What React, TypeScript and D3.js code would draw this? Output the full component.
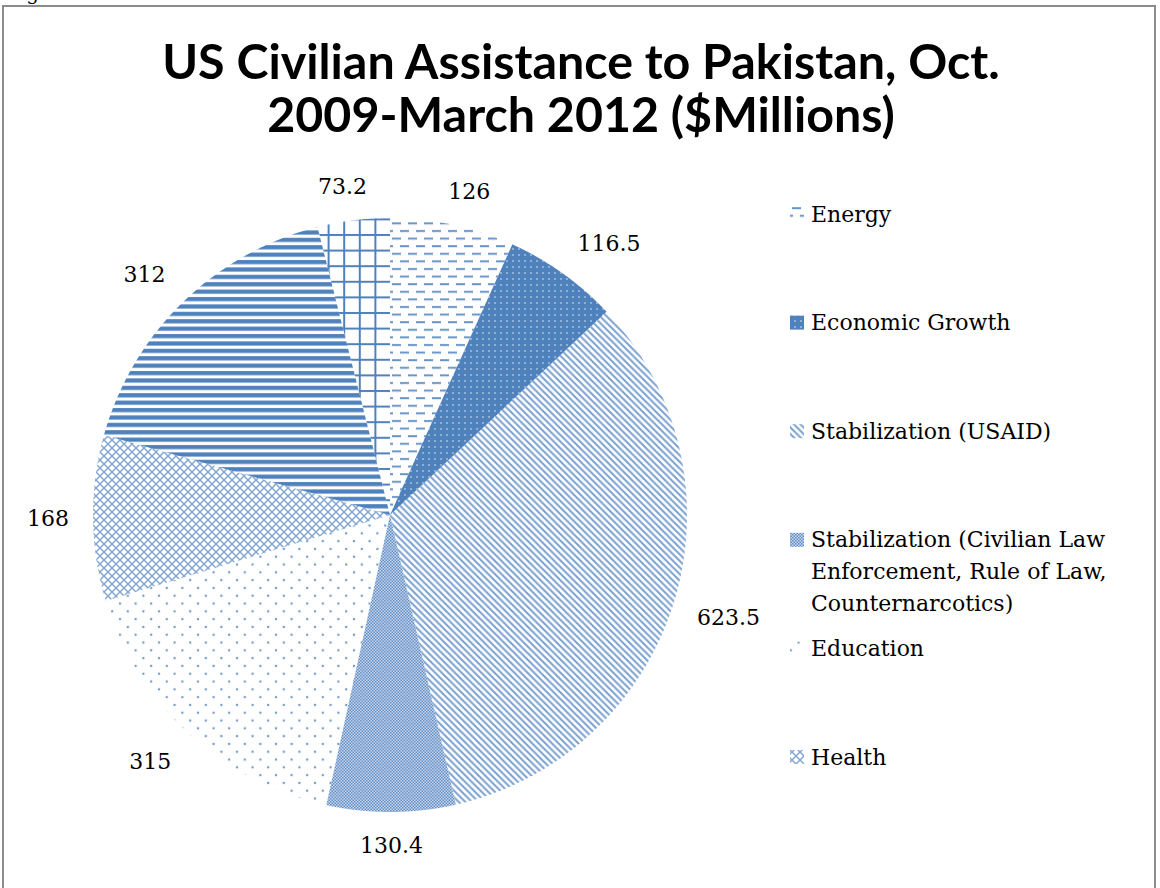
import React, { useEffect, useRef } from "react";
import * as d3 from "d3";

const titleLines = ["US Civilian Assistance to Pakistan, Oct.", "2009-March 2012 ($Millions)"];
const categories = [
  "Energy",
  "Economic Growth",
  "Stabilization (USAID)",
  "Stabilization (Civilian Law Enforcement, Rule of Law, Counternarcotics)",
  "Education",
  "Health",
  "Humanitarian",
  "Other",
];
const values = [126, 116.5, 623.5, 130.4, 315, 168, 312, 73.2];
const valueLabels = ["126", "116.5", "623.5", "130.4", "315", "168", "312", "73.2"];
const legendCount = 6;
const patternIds = ["pEnergy", "pEcon", "pUsaid", "pCiv", "pEdu", "pHealth", "pHum", "pOther"];

const BLUE = "#4F81BD";
const SERIF = "'DejaVu Serif', serif";
const SANS = "Lato, 'Open Sans', sans-serif";

export default function App() {
  const ref = useRef<SVGSVGElement | null>(null);

  useEffect(() => {
    const svg = d3.select(ref.current);
    svg.selectAll("*").remove();
    const W = 1160, H = 888;

    const defs = svg.append("defs");
    // Energy: dashed horizontal
    const pe = defs.append("pattern").attr("id", "pEnergy").attr("patternUnits", "userSpaceOnUse").attr("width", 16).attr("height", 15.2);
    pe.append("rect").attr("x", 0).attr("y", 2).attr("width", 9).attr("height", 2).attr("fill", BLUE).attr("opacity", 0.85);
    pe.append("rect").attr("x", 8).attr("y", 9.6).attr("width", 9).attr("height", 2).attr("fill", BLUE).attr("opacity", 0.85);
    pe.append("rect").attr("x", -8).attr("y", 9.6).attr("width", 9).attr("height", 2).attr("fill", BLUE).attr("opacity", 0.85);
    // Economic growth: solid with white dots
    const pg = defs.append("pattern").attr("id", "pEcon").attr("patternUnits", "userSpaceOnUse").attr("width", 6).attr("height", 6);
    pg.append("rect").attr("width", 6).attr("height", 6).attr("fill", BLUE);
    pg.append("rect").attr("x", 2.3).attr("y", 2.3).attr("width", 1.4).attr("height", 1.4).attr("fill", "#ffffff").attr("opacity", 0.75);
    // Stabilization USAID: diagonal lines
    const pu = defs.append("pattern").attr("id", "pUsaid").attr("patternUnits", "userSpaceOnUse").attr("width", 6.6).attr("height", 6.6);
    pu.append("path").attr("d", "M-1,-1L7.6,7.6M-1,5.6L1,7.6M5.6,-1L7.6,1").attr("stroke", BLUE).attr("stroke-width", 2).attr("opacity", 0.75);
    // Civilian: checkerboard
    const pc = defs.append("pattern").attr("id", "pCiv").attr("patternUnits", "userSpaceOnUse").attr("width", 3).attr("height", 3);
    pc.append("rect").attr("width", 3).attr("height", 3).attr("fill", "#c7d6ec");
    pc.append("rect").attr("x", 0).attr("y", 0).attr("width", 1.5).attr("height", 1.5).attr("fill", BLUE).attr("opacity", 0.85);
    pc.append("rect").attr("x", 1.5).attr("y", 1.5).attr("width", 1.5).attr("height", 1.5).attr("fill", BLUE).attr("opacity", 0.85);
    // Education: sparse dots
    const pd = defs.append("pattern").attr("id", "pEdu").attr("patternUnits", "userSpaceOnUse").attr("width", 15.6).attr("height", 15.6);
    pd.append("circle").attr("cx", 3).attr("cy", 3).attr("r", 1.2).attr("fill", BLUE).attr("opacity", 0.8);
    pd.append("circle").attr("cx", 10.8).attr("cy", 10.8).attr("r", 1.2).attr("fill", BLUE).attr("opacity", 0.8);
    // Health: diagonal crosshatch
    const ph = defs.append("pattern").attr("id", "pHealth").attr("patternUnits", "userSpaceOnUse").attr("width", 8).attr("height", 8);
    ph.append("path").attr("d", "M-1,-1L9,9M-1,9L9,-1").attr("stroke", BLUE).attr("stroke-width", 1.5).attr("opacity", 0.7);
    // Humanitarian: horizontal lines
    const pl = defs.append("pattern").attr("id", "pHum").attr("patternUnits", "userSpaceOnUse").attr("width", 10).attr("height", 7.4);
    pl.append("rect").attr("x", 0).attr("y", 1).attr("width", 10).attr("height", 4.2).attr("fill", BLUE);
    // Other: grid
    const po = defs.append("pattern").attr("id", "pOther").attr("patternUnits", "userSpaceOnUse").attr("width", 15.6).attr("height", 15.6);
    po.append("rect").attr("x", 0).attr("y", 0).attr("width", 2).attr("height", 15.6).attr("fill", BLUE);
    po.append("rect").attr("x", 0).attr("y", 0).attr("width", 15.6).attr("height", 2).attr("fill", BLUE);

    svg.append("rect").attr("width", W).attr("height", H).attr("fill", "#ffffff");

    // partial caption above frame (only its descender shows, as in the reference)
    svg.append("text").attr("x", 6).attr("y", 0).attr("font-family", SERIF).attr("font-size", 20).attr("fill", "#000").text("Figure");

    // frame
    svg.append("path").attr("d", `M3,${H + 5}V6H1155V${H + 5}`).attr("fill", "none").attr("stroke", "#8c8c8c").attr("stroke-width", 2);

    // title
    const cxTitle = 581;
    const t = svg.append("g");
    titleLines.forEach((line, i) => {
      t.append("text").attr("x", cxTitle).attr("y", 79 + i * 53)
        .attr("text-anchor", "middle").attr("font-family", SANS).attr("font-weight", 700)
        .attr("font-size", 46).attr("fill", "#000").text(line);
    });
    const first = t.select<SVGTextElement>("text").node();
    if (first) {
      const len = first.getComputedTextLength();
      const target = 838;
      if (len > 0) t.selectAll("text").attr("font-size", 46 * target / len);
    }

    // pie (drawn in page coordinates so patterns stay anchored to the page)
    const cx = 390, cy = 515, r = 297;
    const pie = d3.pie<number>().sort(null).value((d) => d);
    const arcs = pie(values);
    const arc = d3.arc<d3.PieArcDatum<number>>().innerRadius(0).outerRadius(r);
    svg.append("g").selectAll("path").data(arcs).enter().append("path")
      .attr("d", (d) => {
        const s = arc(d) as string;
        return s;
      })
      .attr("transform", `translate(${cx},${cy})`)
      .attr("fill", "none");
    svg.selectAll("g path").remove();
    svg.append("g").selectAll("path").data(arcs).enter().append("path")
      .attr("d", (d) => {
        const p = d3.path();
        const steps = 120;
        p.moveTo(cx, cy);
        for (let k = 0; k <= steps; k++) {
          const a = d.startAngle + (d.endAngle - d.startAngle) * (k / steps);
          p.lineTo(cx + r * Math.sin(a), cy - r * Math.cos(a));
        }
        p.closePath();
        return p.toString();
      })
      .attr("fill", (d, i) => `url(#${patternIds[i]})`);

    // data labels
    const clamp = (v: number) => Math.max(-1, Math.min(1, v));
    const labelG = svg.append("g");
    arcs.forEach((d, i) => {
      const a = (d.startAngle + d.endAngle) / 2;
      const R = r + 22;
      const txt = labelG.append("text").attr("font-family", SERIF).attr("font-size", 22).attr("fill", "#000")
        .attr("text-anchor", "middle").attr("dominant-baseline", "central").text(valueLabels[i]);
      const w = (txt.node() as SVGTextElement).getComputedTextLength();
      const hw = w / 2 + 2, hh = 12;
      const x = cx + R * Math.sin(a) + hw * clamp(2.5 * Math.sin(a));
      const y = cy - R * Math.cos(a) - hh * clamp(2.5 * Math.cos(a));
      txt.attr("x", x).attr("y", y);
    });

    // legend
    const lg = svg.append("g");
    const legendTop = 214, legendStep = 108.6, lineH = 32, maxW = 325;
    for (let i = 0; i < legendCount; i++) {
      const y0 = legendTop + i * legendStep;
      lg.append("rect").attr("x", 790).attr("y", y0 - 7).attr("width", 14).attr("height", 14)
        .attr("fill", `url(#${patternIds[i]})`);
      const words = categories[i].split(" ");
      const lines: string[] = [];
      let cur = "";
      const probe = lg.append("text").attr("font-family", SERIF).attr("font-size", 22);
      words.forEach((wd) => {
        const test = cur ? cur + " " + wd : wd;
        probe.text(test);
        if ((probe.node() as SVGTextElement).getComputedTextLength() > maxW && cur) {
          lines.push(cur);
          cur = wd;
        } else cur = test;
      });
      if (cur) lines.push(cur);
      probe.remove();
      lines.forEach((ln, j) => {
        lg.append("text").attr("x", 811).attr("y", y0 + j * lineH)
          .attr("dominant-baseline", "central").attr("font-family", SERIF).attr("font-size", 22)
          .attr("fill", "#000").text(ln);
      });
    }
  }, []);

  return (
    <svg ref={ref} width={1160} height={888}
      style={{ position: "absolute", left: 0, top: 0, display: "block", overflow: "hidden" }} />
  );
}
